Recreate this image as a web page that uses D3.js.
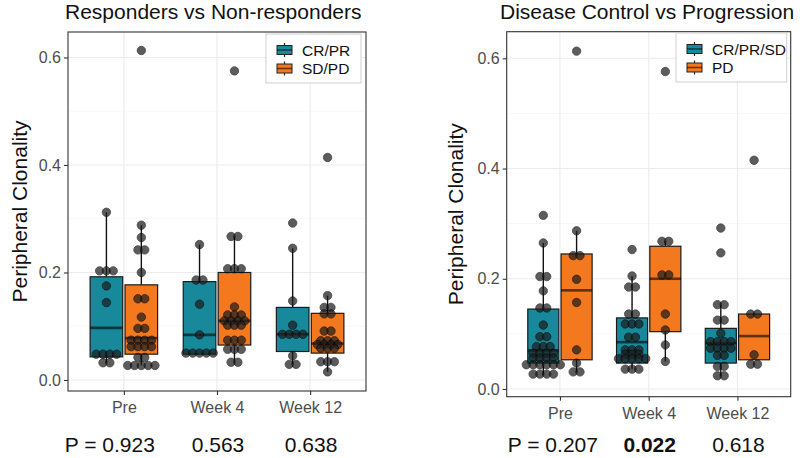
<!DOCTYPE html>
<html><head><meta charset="utf-8">
<script src="https://cdn.jsdelivr.net/npm/d3@7"></script>
<style>
body{margin:0;background:#fff}
text{font-family:"Liberation Sans",Arial,Helvetica,sans-serif}
</style></head>
<body><svg id="c" width="800" height="458"></svg>
<script>
// ---------- data ----------
const categories = ["Pre", "Week 4", "Week 12"];
const yTicks = [0.0, 0.2, 0.4, 0.6];

// Left panel: Responders (CR/PR) vs Non-responders (SD/PD)
const leftTitle = "Responders vs Non-responders";
const leftGroups = ["CR/PR", "SD/PD"];
const leftPValues = ["P = 0.923", "0.563", "0.638"];
const leftPre_A = [0.312, 0.203, 0.203, 0.203, 0.175, 0.144, 0.048, 0.048, 0.048, 0.048, 0.032, 0.032];
const leftPre_B = [0.613, 0.288, 0.265, 0.242, 0.242, 0.2, 0.151, 0.151, 0.117, 0.096, 0.096, 0.074, 0.074, 0.074, 0.074, 0.062, 0.062, 0.062, 0.062, 0.042, 0.042, 0.027, 0.027, 0.027, 0.027, 0.027];
const leftW4_A = [0.252, 0.186, 0.186, 0.141, 0.084, 0.05, 0.05, 0.05, 0.05, 0.05];
const leftW4_B = [0.575, 0.267, 0.267, 0.207, 0.207, 0.207, 0.136, 0.121, 0.121, 0.121, 0.11, 0.11, 0.11, 0.11, 0.102, 0.102, 0.102, 0.074, 0.074, 0.074, 0.057, 0.057, 0.057, 0.033, 0.033];
const leftW12_A = [0.292, 0.245, 0.147, 0.102, 0.085, 0.085, 0.085, 0.085, 0.045, 0.029, 0.029];
const leftW12_B = [0.414, 0.157, 0.135, 0.135, 0.123, 0.123, 0.091, 0.091, 0.073, 0.073, 0.073, 0.066, 0.066, 0.066, 0.066, 0.059, 0.059, 0.059, 0.034, 0.034, 0.034, 0.015];
// box stats, order: Pre A, Pre B, W4 A, W4 B, W12 A, W12 B
const leftLow = [0.032, 0.027, 0.048, 0.033, 0.029, 0.015];
const leftQ1 = [0.043, 0.048, 0.048, 0.065, 0.053, 0.050];
const leftMed = [0.097, 0.078, 0.084, 0.110, 0.085, 0.068];
const leftQ3 = [0.192, 0.177, 0.183, 0.200, 0.135, 0.124];
const leftHigh = [0.312, 0.288, 0.252, 0.267, 0.245, 0.157];

// Right panel: Disease Control (CR/PR/SD) vs Progression (PD)
const rightTitle = "Disease Control vs Progression";
const rightGroups = ["CR/PR/SD", "PD"];
const rightPValues = ["P = 0.207", "0.022", "0.618"];
const rightPre_A = [0.315, 0.265, 0.204, 0.204, 0.178, 0.147, 0.147, 0.116, 0.095, 0.095, 0.077, 0.077, 0.077, 0.065, 0.065, 0.065, 0.065, 0.056, 0.056, 0.056, 0.056, 0.044, 0.044, 0.044, 0.044, 0.044, 0.044, 0.027, 0.027, 0.027, 0.027];
const rightPre_B = [0.613, 0.287, 0.242, 0.242, 0.199, 0.157, 0.071, 0.047, 0.031, 0.031];
const rightW4_A = [0.253, 0.205, 0.185, 0.185, 0.136, 0.136, 0.118, 0.118, 0.118, 0.094, 0.094, 0.071, 0.071, 0.071, 0.063, 0.063, 0.063, 0.055, 0.055, 0.055, 0.055, 0.055, 0.036, 0.036, 0.036];
const rightW4_B = [0.576, 0.268, 0.268, 0.207, 0.207, 0.136, 0.107, 0.08, 0.05];
const rightW12_A = [0.292, 0.247, 0.153, 0.153, 0.125, 0.125, 0.101, 0.086, 0.086, 0.086, 0.086, 0.074, 0.074, 0.074, 0.074, 0.061, 0.061, 0.041, 0.041, 0.024, 0.024];
const rightW12_B = [0.415, 0.136, 0.136, 0.062, 0.045, 0.045];
const rightLow = [0.025, 0.031, 0.036, 0.050, 0.024, 0.053];
const rightQ1 = [0.047, 0.053, 0.047, 0.104, 0.047, 0.053];
const rightMed = [0.070, 0.179, 0.085, 0.200, 0.083, 0.096];
const rightQ3 = [0.145, 0.245, 0.129, 0.259, 0.110, 0.136];
const rightHigh = [0.265, 0.287, 0.205, 0.268, 0.153, 0.136];

const colors = ["#17899b", "#f3781e"];

// ---------- drawing ----------
const svg = d3.select("#c");

function drawPanel(cfg) {
  const x = d3.scalePoint().domain(categories).range([cfg.x0, cfg.x1]).padding(0.6);
  const step = x.step();
  const y = d3.scaleLinear().domain(cfg.yDomain).range([cfg.y1, cfg.y0]);
  const g = svg.append("g");

  // grid
  const minor = [0.1, 0.3, 0.5];
  g.selectAll(".mn").data(minor).join("line")
    .attr("x1", cfg.x0).attr("x2", cfg.x1).attr("y1", d => y(d)).attr("y2", d => y(d))
    .attr("stroke", "#f2f2f2").attr("stroke-width", 0.6);
  g.selectAll(".mj").data(yTicks).join("line")
    .attr("x1", cfg.x0).attr("x2", cfg.x1).attr("y1", d => y(d)).attr("y2", d => y(d))
    .attr("stroke", "#ebebeb").attr("stroke-width", 1.1);
  g.selectAll(".mx").data(categories).join("line")
    .attr("x1", d => x(d)).attr("x2", d => x(d)).attr("y1", cfg.y0).attr("y2", cfg.y1)
    .attr("stroke", "#ebebeb").attr("stroke-width", 1.1);

  // boxes
  const boxW = 0.35 * step, off = 0.1875 * step;
  const items = [];
  categories.forEach((c, ci) => {
    [0, 1].forEach(gi => {
      const k = ci * 2 + gi;
      items.push({cx: x(c) + (gi === 0 ? -off : off), gi,
        lo: cfg.low[k], q1: cfg.q1[k], med: cfg.med[k], q3: cfg.q3[k], hi: cfg.high[k],
        vals: cfg.values[k]});
    });
  });
  items.forEach(it => {
    g.append("line").attr("x1", it.cx).attr("x2", it.cx).attr("y1", y(it.q3)).attr("y2", y(it.hi))
      .attr("stroke", "#111").attr("stroke-width", 1.4);
    g.append("line").attr("x1", it.cx).attr("x2", it.cx).attr("y1", y(it.q1)).attr("y2", y(it.lo))
      .attr("stroke", "#111").attr("stroke-width", 1.4);
    g.append("rect").attr("x", it.cx - boxW / 2).attr("width", boxW)
      .attr("y", y(it.q3)).attr("height", y(it.q1) - y(it.q3))
      .attr("fill", colors[it.gi]).attr("stroke", "#1a1a1a").attr("stroke-width", 1.2);
    g.append("line").attr("x1", it.cx - boxW / 2).attr("x2", it.cx + boxW / 2)
      .attr("y1", y(it.med)).attr("y2", y(it.med))
      .attr("stroke", "#000").attr("stroke-opacity", 0.6).attr("stroke-width", 2.6);
  });
  // dots (centered dot-plot rows)
  const dx = 6.8, r = 4.2;
  items.forEach(it => {
    const rows = d3.groups(it.vals, v => v);
    rows.forEach(([v, arr]) => {
      const n = arr.length;
      arr.forEach((_, i) => {
        g.append("circle").attr("cx", it.cx + (i - (n - 1) / 2) * dx).attr("cy", y(v)).attr("r", r)
          .attr("fill", "#1e1e1e").attr("stroke", "#000").attr("stroke-width", 0.8).attr("opacity", 0.72);
      });
    });
  });

  // panel border
  g.append("rect").attr("x", cfg.x0).attr("y", cfg.y0).attr("width", cfg.x1 - cfg.x0).attr("height", cfg.y1 - cfg.y0)
    .attr("fill", "none").attr("stroke", "#333").attr("stroke-width", 1.1);

  // axes
  const ya = g.append("g").attr("transform", `translate(${cfg.x0},0)`)
    .call(d3.axisLeft(y).tickValues(yTicks).tickFormat(d3.format(".1f")).tickSize(4).tickPadding(3));
  const xa = g.append("g").attr("transform", `translate(0,${cfg.y1})`)
    .call(d3.axisBottom(x).tickSize(4).tickPadding(7));
  [ya, xa].forEach(a => {
    a.select(".domain").remove();
    a.selectAll(".tick line").attr("stroke", "#333").attr("stroke-width", 1.1);
    a.selectAll(".tick text").attr("fill", "#4d4d4d").attr("font-size", 16)
      .attr("font-family", "Liberation Sans, Arial, sans-serif");
  });

  // title
  g.append("text").attr("x", cfg.titleX).attr("y", 19).attr("font-size", 21).attr("fill", "#111").text(cfg.title);
  // y label
  g.append("text").attr("transform", `translate(${cfg.ylabX},${(cfg.y0 + cfg.y1) / 2}) rotate(-90)`)
    .attr("text-anchor", "middle").attr("font-size", 21).attr("fill", "#111").text("Peripheral Clonality");

  // legend
  const L = cfg.legend;
  g.append("rect").attr("x", L.x).attr("y", L.y).attr("width", L.w).attr("height", L.h)
    .attr("fill", "#fff").attr("stroke", "#cfcfcf").attr("stroke-width", 1);
  cfg.groups.forEach((name, i) => {
    const cy = L.y + 16 + i * 18.5, kx = L.x + 11;
    g.append("line").attr("x1", kx + 7.5).attr("x2", kx + 7.5).attr("y1", cy - 7).attr("y2", cy + 7)
      .attr("stroke", "#222").attr("stroke-width", 1.2);
    g.append("rect").attr("x", kx).attr("y", cy - 4.5).attr("width", 15).attr("height", 9)
      .attr("fill", colors[i]).attr("stroke", "#222").attr("stroke-width", 1);
    g.append("line").attr("x1", kx).attr("x2", kx + 15).attr("y1", cy).attr("y2", cy)
      .attr("stroke", "#000").attr("stroke-opacity", 0.55).attr("stroke-width", 1.6);
    g.append("text").attr("x", kx + 25).attr("y", cy + 5.5).attr("font-size", 15.5).attr("fill", "#111").text(name);
  });

  // p-values
  cfg.pvals.forEach((p, i) => {
    const t = g.append("text").attr("y", 452).attr("font-size", 21).attr("fill", "#111").text(p);
    if (i === 0) t.attr("x", x(categories[0]) + cfg.pOff).attr("text-anchor", "end");
    else t.attr("x", x(categories[i]) + 1).attr("text-anchor", "middle");
    if (cfg.bold && cfg.bold[i]) t.attr("font-weight", "bold");
  });
}

drawPanel({
  x0: 68, x1: 366, y0: 32, y1: 391, yDomain: [-0.0205, 0.6474],
  title: leftTitle, titleX: 65, ylabX: 27, groups: leftGroups,
  values: [leftPre_A, leftPre_B, leftW4_A, leftW4_B, leftW12_A, leftW12_B],
  low: leftLow, q1: leftQ1, med: leftMed, q3: leftQ3, high: leftHigh,
  legend: {x: 266, y: 34, w: 95, h: 49},
  pvals: leftPValues, pOff: 31, bold: [false, false, false]
});
drawPanel({
  x0: 506.7, x1: 790.7, y0: 31.7, y1: 396.7, yDomain: [-0.014, 0.6483],
  title: rightTitle, titleX: 500, ylabX: 463, groups: rightGroups,
  values: [rightPre_A, rightPre_B, rightW4_A, rightW4_B, rightW12_A, rightW12_B],
  low: rightLow, q1: rightQ1, med: rightMed, q3: rightQ3, high: rightHigh,
  legend: {x: 676, y: 33, w: 110.7, h: 49},
  pvals: rightPValues, pOff: 38, bold: [false, true, false]
});
</script>
</body></html>
